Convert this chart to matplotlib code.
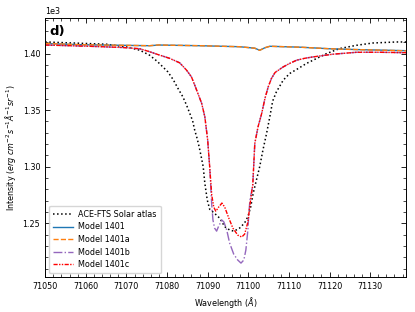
import matplotlib as mpl
mpl.use("agg")
import matplotlib.pyplot as plt
from matplotlib.ticker import AutoMinorLocator
import numpy as np

# ACE-FTS solar atlas (black dotted)
wl_ace = [71050.0, 71056.8, 71065.1, 71070.0, 71073.3, 71075.7, 71077.6, 71080.2,
          71081.5, 71082.7, 71083.9, 71084.8, 71085.6, 71086.3, 71086.8, 71087.4,
          71087.9, 71088.4, 71088.9, 71089.3, 71089.9, 71090.5, 71091.0, 71091.7,
          71093.0, 71094.2, 71095.5, 71096.5, 71097.9, 71099.1, 71099.9, 71100.6,
          71101.2, 71102.0, 71102.8, 71103.6, 71104.5, 71105.3, 71106.0, 71106.9,
          71108.6, 71110.2, 71112.3, 71114.3, 71116.8, 71119.3, 71122.5, 71126.7,
          71130.7, 71136.5, 71139.0]
i_ace = [1410.2, 1409.3, 1408.2, 1405.8, 1402.9, 1398.5, 1393.0, 1383.8,
         1377.0, 1369.1, 1361.7, 1354.4, 1347.1, 1340.5, 1332.4, 1325.0,
         1317.6, 1309.0, 1300.0, 1285.4, 1270.6, 1262.5, 1261.0, 1258.9,
         1254.5, 1247.1, 1244.0, 1243.2, 1246.0, 1250.5, 1256.0, 1264.7,
         1276.5, 1288.3, 1300.0, 1314.7, 1329.5, 1344.1, 1358.0, 1366.0,
         1376.5, 1382.4, 1386.8, 1391.2, 1395.6, 1400.0, 1404.4, 1407.3,
         1409.3, 1410.2, 1410.2]

# Model 1401 / 1401a (nearly identical)
wl_m = [71050.0, 71058.5, 71068.3, 71075.7, 71078.0, 71079.5, 71088.1, 71097.9,
        71101.6, 71102.8, 71104.1, 71105.3, 71112.7, 71120.1, 71127.5, 71139.0]
i_1401 = [1408.8, 1407.8, 1407.3, 1406.9, 1407.5, 1407.4, 1406.9, 1406.0,
          1404.7, 1402.9, 1405.1, 1406.4, 1405.6, 1404.2, 1403.4, 1402.5]
i_1401a = [1408.9, 1407.8, 1407.3, 1406.9, 1407.6, 1407.4, 1406.9, 1406.0,
           1404.7, 1402.8, 1405.1, 1406.4, 1405.6, 1404.2, 1403.4, 1402.4]

# wings shared by Model 1401b and 1401c
wl_left = [71050.0, 71060.9, 71069.2, 71073.3, 71075.7, 71078.0, 71080.6, 71083.1,
           71084.8, 71086.0, 71086.8, 71087.6, 71088.5, 71089.3, 71090.0, 71090.5]
i_left = [1407.5, 1406.4, 1405.3, 1404.2, 1401.6, 1398.8, 1395.8, 1391.8,
          1385.3, 1379.4, 1372.2, 1364.7, 1356.2, 1344.1, 1323.6, 1299.7]
wl_right = [71101.1, 71101.6, 71102.4, 71103.3, 71104.1, 71104.9, 71105.7, 71106.6,
            71108.6, 71110.2, 71111.9, 71113.9, 71115.9, 71120.8, 71126.7,
            71132.4, 71139.0]
i_right = [1283.9, 1320.6, 1335.3, 1347.1, 1360.3, 1370.5, 1378.0, 1383.3,
           1388.2, 1391.3, 1394.1, 1395.8, 1397.0, 1399.4, 1401.1, 1401.1, 1400.7]

# line cores
wl_core_c = [71091.0, 71091.5, 71092.0, 71092.7, 71093.5, 71094.2, 71095.2, 71096.2,
             71097.4, 71098.4, 71099.1, 71099.9, 71100.4]
i_core_c = [1275.0, 1264.4, 1260.8, 1264.4, 1268.0, 1264.4, 1254.7, 1245.9,
            1239.7, 1238.0, 1240.6, 1251.2, 1266.2]
wl_core_b = [71091.0, 71091.3, 71091.7, 71092.2, 71092.7, 71093.5, 71094.0, 71094.7,
             71095.4, 71096.4, 71097.4, 71098.2, 71098.9, 71099.4, 71099.9, 71100.1,
             71100.4]
i_core_b = [1266.2, 1253.0, 1245.9, 1243.2, 1247.6, 1253.0, 1251.2, 1244.1,
            1232.7, 1223.0, 1217.7, 1215.0, 1217.7, 1226.5, 1244.2, 1257.4, 1270.6]

wl_b = wl_left + wl_core_b + wl_right
i_b = i_left + i_core_b + i_right
wl_c = wl_left + wl_core_c + wl_right
i_c = i_left + i_core_c + i_right

fs = 5.8
fig = plt.figure(figsize=(4.15, 3.12), dpi=100)
ax = fig.add_axes([0.109, 0.111, 0.869, 0.830])

ax.plot(wl_ace, i_ace, ':', color='black', lw=1.1, label="ACE-FTS Solar atlas")
ax.plot(wl_m, i_1401, '-', color='#1f77b4', lw=1.0, label="Model 1401")
ax.plot(wl_m, i_1401a, '--', color='#ff7f0e', lw=1.0, label="Model 1401a")
ax.plot(wl_b, i_b, '-.', color='#9467bd', lw=1.0, label="Model 1401b")
ax.plot(wl_c, i_c, color='red', lw=1.0, linestyle=(0, (3, 1, 1, 1, 1, 1)), label="Model 1401c")

ax.set_xlim(71050, 71138.8)
ax.set_ylim(1202.4, 1431.0)
ax.ticklabel_format(axis='y', style='sci', scilimits=(0, 0))
ax.ticklabel_format(axis='x', useOffset=False, style='plain')
ax.xaxis.set_minor_locator(AutoMinorLocator())
ax.yaxis.set_minor_locator(AutoMinorLocator())
ax.tick_params(which='both', direction='in', top=True, right=True, labelsize=fs)
ax.tick_params(which='major', length=3.5, width=0.6)
ax.tick_params(which='minor', length=2, width=0.5)
ax.yaxis.get_offset_text().set_fontsize(fs)
for s in ax.spines.values():
    s.set_linewidth(0.7)

ax.set_xlabel(r"Wavelength ($\AA$)", fontsize=fs, labelpad=3)
ax.set_ylabel(r"Intensity ($erg\ cm^{-2}s^{-1}\AA^{-1}sr^{-1}$)", fontsize=fs, labelpad=3)
ax.text(0.012, 0.975, "d)", transform=ax.transAxes, fontsize=9.5, fontweight='bold',
        va='top', ha='left')
ax.legend(loc='lower left', fontsize=fs, handlelength=2.4, borderpad=0.5,
          labelspacing=0.45, handletextpad=0.7)

fig.savefig("out.png", dpi=100)
